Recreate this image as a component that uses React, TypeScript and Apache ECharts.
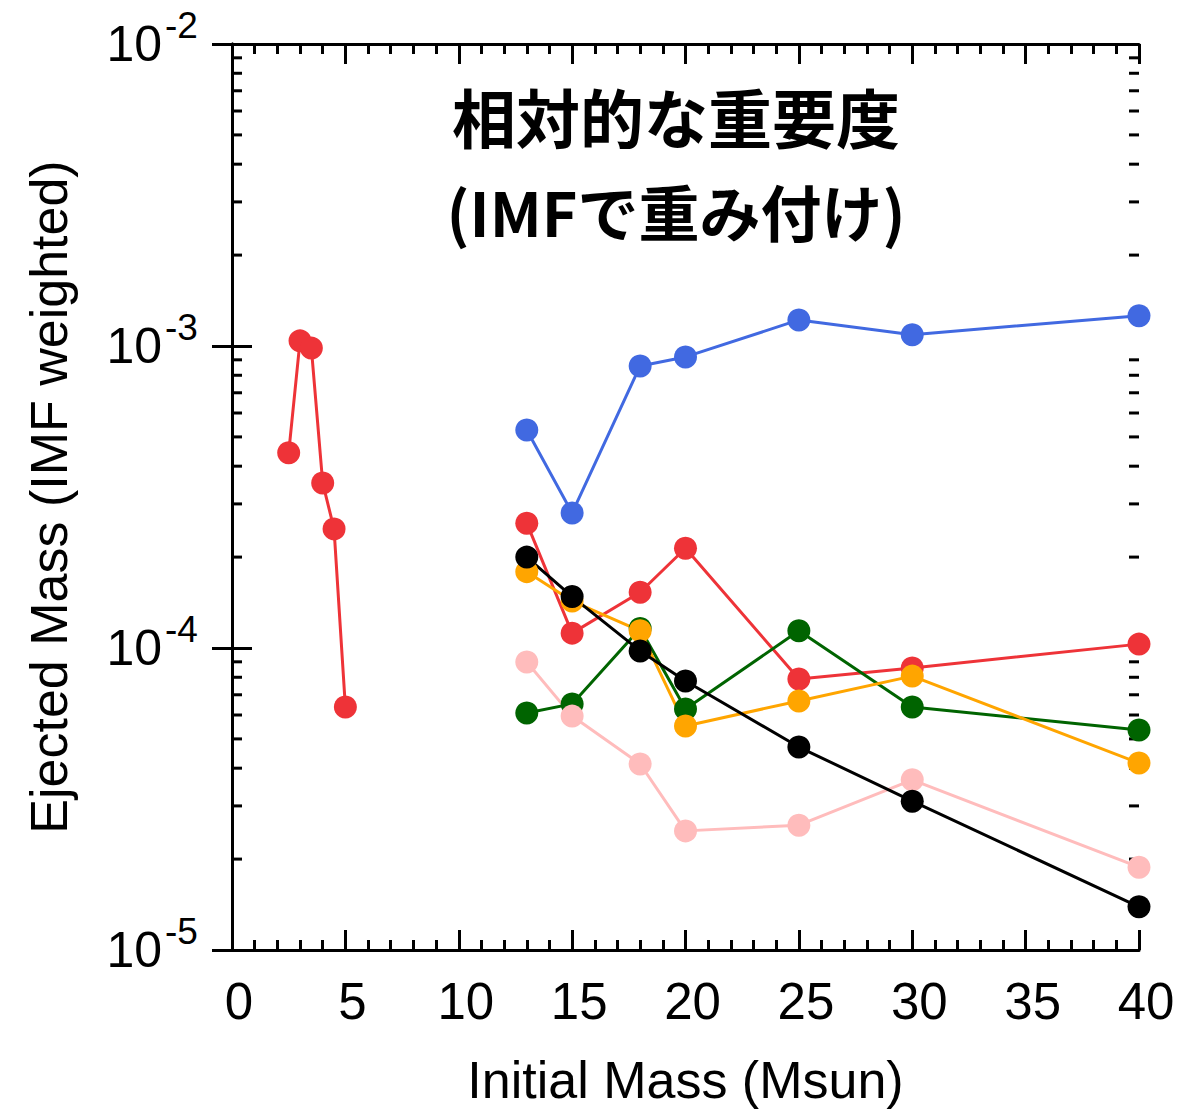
import React, { useEffect, useRef } from "react";
import * as echarts from "echarts";

const lowX = [2.5, 3, 3.5, 4, 4.5, 5];
const lowRed = [4.43e-4, 1.04e-3, 9.84e-4, 3.52e-4, 2.48e-4, 6.38e-5];

const highX = [13, 15, 18, 20, 25, 30, 40];
const blue = [5.27e-4, 2.8e-4, 8.59e-4, 9.2e-4, 1.22e-3, 1.09e-3, 1.26e-3];
const red = [2.59e-4, 1.12e-4, 1.53e-4, 2.14e-4, 7.89e-5, 8.59e-5, 1.03e-4];
const green = [6.09e-5, 6.53e-5, 1.16e-4, 6.28e-5, 1.14e-4, 6.38e-5, 5.35e-5];
const orange = [1.79e-4, 1.43e-4, 1.14e-4, 5.52e-5, 6.68e-5, 8.07e-5, 4.16e-5];
const pink = [8.99e-5, 5.95e-5, 4.13e-5, 2.48e-5, 2.59e-5, 3.66e-5, 1.88e-5];
const black = [2.0e-4, 1.48e-4, 9.78e-5, 7.78e-5, 4.7e-5, 3.11e-5, 1.39e-5];

const decades = [1e-5, 1e-4, 1e-3];
const minorMultipliers = [2, 3, 4, 5, 6, 7, 8, 9];

const titleLine1 = "相対的な重要度";
const titleLine2 = "(IMFで重み付け)";
const xName = "Initial Mass (Msun)";
const yName = "Ejected Mass (IMF weighted)";

const FONT = "'Liberation Sans', Arial, Helvetica, sans-serif";
const CJK = "'Noto Sans CJK JP', 'Noto Sans', sans-serif";

export default function App() {
  const ref = useRef<HTMLDivElement>(null);
  useEffect(() => {
    document.body.style.margin = "0";
    if (!ref.current) return;
    const chart = echarts.init(ref.current, null, { renderer: "svg" });

    const zip = (xs: number[], ys: number[]) => xs.map((x, i) => [x, ys[i]]);
    const minorVals: number[][] = [];
    decades.forEach((d) => minorMultipliers.forEach((m) => minorVals.push([0, d * m])));

    const lineSeries = (name: string, color: string, data: number[][]) => ({
      name,
      type: "line",
      data,
      symbol: "circle",
      symbolSize: 23,
      showSymbol: true,
      itemStyle: { color },
      lineStyle: { color, width: 3 },
      xAxisIndex: 0,
      yAxisIndex: 0,
      clip: false,
      emphasis: { disabled: true },
    });

    const tickCommon = {
      axisLine: { show: true, lineStyle: { color: "#000", width: 3 } },
      axisTick: { show: true, inside: true, length: 20, lineStyle: { color: "#000", width: 3 } },
      splitLine: { show: false },
    };

    const option: any = {
      animation: false,
      backgroundColor: "#fff",
      grid: { left: 232, right: 64, top: 44, bottom: 161, outerBoundsMode: "none", containLabel: false },
      xAxis: [
        {
          type: "value",
          min: 0,
          max: 40,
          interval: 5,
          position: "bottom",
          ...tickCommon,
          minorTick: { show: true, splitNumber: 5, length: 10, lineStyle: { color: "#000", width: 3 } },
          axisLabel: {
            show: true,
            margin: 26,
            fontSize: 51,
            color: "#000",
            fontFamily: FONT,
            padding: [0, 0, 0, 14],
          },
          name: xName,
          nameLocation: "middle",
          nameGap: 104,
          nameTextStyle: { fontSize: 52, color: "#000", fontFamily: FONT },
        },
        {
          type: "value",
          min: 0,
          max: 40,
          interval: 5,
          position: "top",
          ...tickCommon,
          minorTick: { show: true, splitNumber: 5, length: 10, lineStyle: { color: "#000", width: 3 } },
          axisLabel: { show: false },
        },
      ],
      yAxis: [
        {
          type: "log",
          logBase: 10,
          min: 1e-5,
          max: 1e-2,
          position: "left",
          ...tickCommon,
          axisLabel: {
            show: true,
            margin: 70,
            fontSize: 50,
            color: "#000",
            fontFamily: FONT,
            formatter: () => "10",
          },
          name: yName,
          nameLocation: "middle",
          nameGap: 157,
          nameTextStyle: { fontSize: 52, color: "#000", fontFamily: FONT },
        },
        {
          type: "log",
          logBase: 10,
          min: 1e-5,
          max: 1e-2,
          position: "right",
          ...tickCommon,
          axisLabel: { show: false },
        },
        {
          type: "log",
          logBase: 10,
          min: 1e-5,
          max: 1e-2,
          position: "left",
          axisLine: { show: false },
          axisTick: { show: false },
          splitLine: { show: false },
          axisLabel: {
            show: true,
            margin: 67,
            align: "left",
            verticalAlign: "bottom",
            lineHeight: 38,
            fontSize: 37,
            color: "#000",
            fontFamily: FONT,
            formatter: (v: number) => String(Math.round(Math.log10(v))),
          },
        },
      ],
      graphic: [
        {
          type: "text",
          x: 676,
          y: 115,
          style: {
            text: titleLine1,
            fontSize: 64,
            fontWeight: "bold",
            fontFamily: CJK,
            fill: "#000",
            align: "center",
            verticalAlign: "middle",
          },
        },
        {
          type: "text",
          x: 676,
          y: 210,
          style: {
            text: titleLine2,
            fontSize: 61,
            fontWeight: "bold",
            fontFamily: CJK,
            fill: "#000",
            align: "center",
            verticalAlign: "middle",
          },
        },
      ],
      series: [
        {
          type: "custom",
          xAxisIndex: 0,
          yAxisIndex: 0,
          silent: true,
          clip: false,
          data: minorVals,
          encode: { x: 0, y: 1 },
          renderItem: (params: any, api: any) => {
            const v = api.value(1);
            const pl = api.coord([0, v]);
            const pr = api.coord([40, v]);
            return {
              type: "group",
              children: [
                {
                  type: "line",
                  shape: { x1: pl[0], y1: pl[1], x2: pl[0] + 10, y2: pl[1] },
                  style: { stroke: "#000", lineWidth: 3 },
                },
                {
                  type: "line",
                  shape: { x1: pr[0] - 10, y1: pr[1], x2: pr[0], y2: pr[1] },
                  style: { stroke: "#000", lineWidth: 3 },
                },
              ],
            };
          },
        },
        lineSeries("low", "#EE3338", zip(lowX, lowRed)),
        lineSeries("red", "#EE3338", zip(highX, red)),
        lineSeries("green", "#006400", zip(highX, green)),
        lineSeries("pink", "#FFBCBC", zip(highX, pink)),
        lineSeries("orange", "#FFA500", zip(highX, orange)),
        lineSeries("black", "#000000", zip(highX, black)),
        lineSeries("blue", "#4169E1", zip(highX, blue)),
      ],
    };
    chart.setOption(option);
    return () => chart.dispose();
  }, []);
  return <div ref={ref} style={{ width: 1203, height: 1111 }} />;
}
